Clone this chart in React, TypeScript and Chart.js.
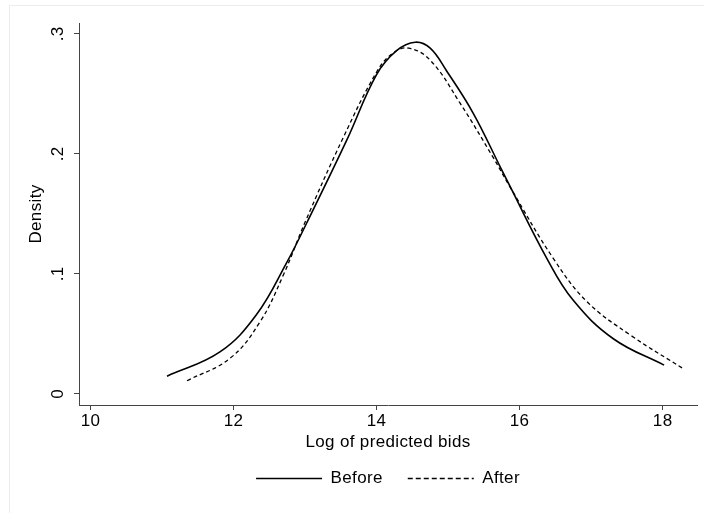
import React, { useEffect, useRef } from "react";
import { Chart, registerables } from "chart.js";

Chart.register(...registerables);

const beforeX = [11.07, 11.81, 12.32, 12.74, 13.02, 13.58, 14.0, 14.28, 14.54, 14.75, 14.98, 15.35, 15.73, 15.84, 16.38, 16.75, 17.31, 18.02];
const beforeY = [0.0148, 0.035, 0.066, 0.109, 0.142, 0.211, 0.266, 0.286, 0.293, 0.288, 0.269, 0.234, 0.189, 0.176, 0.113, 0.078, 0.046, 0.024];

const afterX = [11.35, 11.95, 12.37, 12.7, 13.0, 13.53, 14.0, 14.23, 14.45, 14.75, 15.17, 15.63, 15.87, 16.47, 16.94, 17.55, 18.29];
const afterY = [0.011, 0.0296, 0.06, 0.0995, 0.143, 0.213, 0.268, 0.284, 0.288, 0.278, 0.242, 0.197, 0.172, 0.113, 0.077, 0.049, 0.021];

const xTicks = [10, 12, 14, 16, 18];
const yTicks = [0, 0.1, 0.2, 0.3];
const seriesLabels = ["Before", "After"];
const xTitle = "Log of predicted bids";
const yTitle = "Density";

const FONT = "'Liberation Sans', Arial, Helvetica, sans-serif";
const FS = 17;
const SPACING = "0.35px";

const setSpacing = (chart: any) => {
  try {
    chart.ctx.letterSpacing = SPACING;
  } catch (e) {}
};

const framePlugin = {
  id: "frame",
  beforeLayout(chart: any) {
    setSpacing(chart);
  },
  beforeDraw(chart: any) {
    setSpacing(chart);
    const ctx = chart.ctx;
    ctx.save();
    ctx.fillStyle = "#ffffff";
    ctx.fillRect(0, 0, chart.width, chart.height);
    ctx.strokeStyle = "#ececec";
    ctx.lineWidth = 1;
    ctx.beginPath();
    ctx.moveTo(9.5, chart.height);
    ctx.lineTo(9.5, 5.5);
    ctx.lineTo(chart.width, 5.5);
    ctx.stroke();
    ctx.restore();
  },
  afterLayout(chart: any) {
    const lg = chart.legend;
    if (lg && chart.chartArea) {
      lg.left = chart.chartArea.left;
      lg.right = chart.chartArea.right;
    }
  },
};

export default function App() {
  const ref = useRef<HTMLCanvasElement | null>(null);
  useEffect(() => {
    document.body.style.margin = "0";
    const canvas = ref.current;
    if (!canvas) return;
    const toPts = (xs: number[], ys: number[]) => xs.map((x, i) => ({ x, y: ys[i] }));
    const legendDash = [[], [5, 3]];
    const chart = new Chart(canvas, {
      type: "line",
      data: {
        datasets: [
          {
            label: seriesLabels[0],
            data: toPts(beforeX, beforeY),
            borderColor: "#000",
            backgroundColor: "#000",
            borderWidth: 1.6,
            pointRadius: 0,
            pointStyle: "line",
            tension: 0.4,
            fill: false,
          },
          {
            label: seriesLabels[1],
            data: toPts(afterX, afterY),
            borderColor: "#000",
            backgroundColor: "#000",
            borderWidth: 1.3,
            borderDash: [4, 3],
            pointRadius: 0,
            pointStyle: "line",
            tension: 0.4,
            fill: false,
          },
        ],
      },
      options: {
        animation: false,
        responsive: false,
        maintainAspectRatio: false,
        layout: { padding: { left: 0, right: 7, top: 23, bottom: 16 } },
        font: { family: FONT },
        plugins: {
          tooltip: { enabled: false },
          legend: {
            position: "bottom",
            labels: {
              usePointStyle: true,
              pointStyleWidth: 66,
              padding: 25,
              color: "#000",
              font: { family: FONT, size: FS },
              generateLabels: (c: any) => {
                const items = (Chart as any).defaults.plugins.legend.labels.generateLabels(c);
                return items.map((it: any, i: number) => ({
                  ...it,
                  lineDash: legendDash[i] || [],
                  lineWidth: 1.4,
                  strokeStyle: "#000",
                  pointStyle: "line",
                }));
              },
            },
          },
        },
        scales: {
          x: {
            type: "linear",
            min: 9.84,
            max: 18.48,
            afterBuildTicks: (s: any) => {
              s.ticks = xTicks.map((v) => ({ value: v }));
            },
            afterFit: (s: any) => {
              s.height = 40;
            },
            ticks: {
              color: "#000",
              font: { family: FONT, size: FS },
              padding: 1.5,
              maxRotation: 0,
              callback: (v: any) => String(v),
            },
            grid: { drawOnChartArea: false, drawTicks: true, tickLength: 5, tickColor: "#444", lineWidth: 1 },
            border: { display: true, color: "#444", width: 1 },
            title: {
              display: true,
              text: xTitle,
              color: "#000",
              font: { family: FONT, size: FS },
              padding: { top: 0, bottom: -7.2 },
            },
          },
          y: {
            type: "linear",
            min: -0.0092,
            max: 0.309,
            afterBuildTicks: (s: any) => {
              s.ticks = yTicks.map((v) => ({ value: v }));
            },
            afterFit: (s: any) => {
              s.width = 79;
            },
            ticks: {
              color: "#000",
              font: { family: FONT, size: FS },
              minRotation: 90,
              maxRotation: 90,
              crossAlign: "center",
              padding: 8.5,
              callback: (v: any) => (v === 0 ? "0" : String(v).replace(/^0\./, ".")),
            },
            grid: { drawOnChartArea: false, drawTicks: true, tickLength: 5, tickColor: "#444", lineWidth: 1 },
            border: { display: true, color: "#444", width: 1 },
            title: {
              display: true,
              text: yTitle,
              color: "#000",
              font: { family: FONT, size: FS },
              padding: { top: 26.5, bottom: 0 },
            },
          },
        },
      } as any,
      plugins: [framePlugin],
    });
    return () => chart.destroy();
  }, []);
  return (
    <div style={{ position: "absolute", left: 0, top: 0, width: 704, height: 513 }}>
      <canvas ref={ref} width={704} height={513} style={{ width: 704, height: 513, display: "block" }} />
    </div>
  );
}
